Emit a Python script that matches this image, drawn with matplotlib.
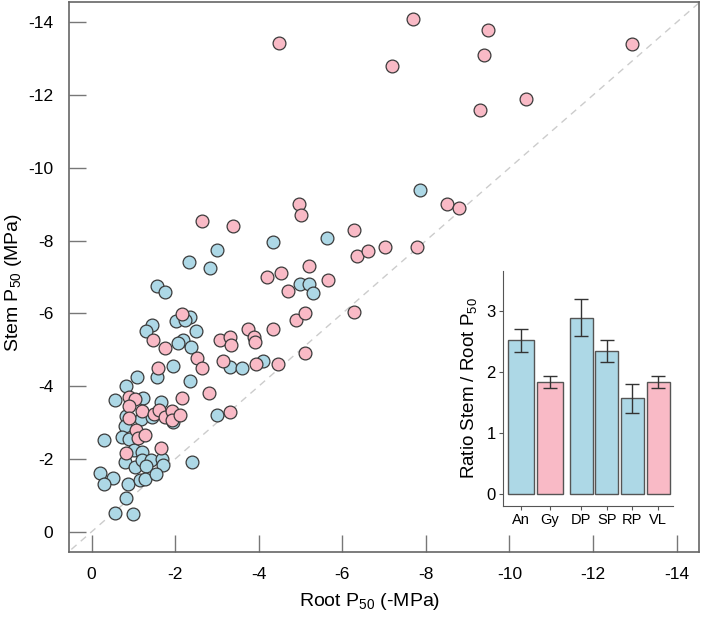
import matplotlib
matplotlib.use("Agg")
import matplotlib.pyplot as plt

plt.rcParams['font.family'] = ['Liberation Sans', 'DejaVu Sans']
plt.rcParams['mathtext.fontset'] = 'custom'
plt.rcParams['mathtext.rm'] = 'Liberation Sans'
plt.rcParams['mathtext.it'] = 'Liberation Sans:italic'
plt.rcParams['axes.unicode_minus'] = False

# angiosperms (blue)
an_root = [-2.32, -3.01, -2.84, -1.56, -1.76, -4.99, -5.21, -5.30, -2.35, -2.03,
           -2.23, -1.44, -1.29, -2.49, -2.19, -2.07, -2.37, -3.32, -3.59, -4.11,
           -1.95, -1.57, -1.09, -2.36, -0.81, -0.57, -1.23, -1.65, -0.83, -1.17,
           -1.45, -1.95, -3.00, -0.80, -0.72, -0.89, -0.30, -1.01, -1.21, -0.80,
           -1.03, -1.21, -1.43, -1.31, -1.69, -1.71, -2.41, -0.20, -0.50, -0.30,
           -0.86, -1.15, -1.27, -1.54, -0.81, -0.57, -1.00, -7.87, -5.64, -4.34]
an_stem = [-7.42, -7.73, -7.26, -6.75, -6.60, -6.82, -6.82, -6.55, -5.91, -5.79,
           -5.82, -5.69, -5.52, -5.51, -5.27, -5.18, -5.09, -4.53, -4.51, -4.69,
           -4.55, -4.26, -4.26, -4.13, -4.01, -3.61, -3.67, -3.57, -3.19, -3.10,
           -3.16, -3.01, -3.21, -2.91, -2.60, -2.55, -2.51, -2.25, -2.20, -1.92,
           -1.79, -1.97, -1.97, -1.81, -1.99, -1.82, -1.92, -1.61, -1.47, -1.31,
           -1.32, -1.42, -1.44, -1.59, -0.93, -0.51, -0.48, -9.40, -8.08, -7.96]

# gymnosperms (pink)
gy_root = [-4.19, -4.53, -5.20, -4.70, -2.17, -1.46, -1.75, -3.07, -3.31, -3.33,
           -3.74, -3.88, -3.91, -4.33, -4.90, -5.10, -5.10, -2.53, -2.65, -3.14,
           -3.93, -4.45, -1.58, -0.89, -1.04, -0.89, -2.16, -2.80, -0.89, -1.21,
           -1.49, -1.61, -1.75, -1.93, -1.93, -2.11, -3.30, -1.07, -1.11, -1.28,
           -0.81, -1.65, -8.50, -8.80, -4.96, -5.00, -2.65, -3.39, -6.29, -6.35,
           -6.61, -7.03, -7.79, -7.69, -9.49, -7.19, -9.40, -12.94, -10.39, -9.29,
           -4.48, -5.65, -6.28]
gy_stem = [-7.01, -7.12, -7.31, -6.61, -5.98, -5.27, -5.05, -5.27, -5.34, -5.14,
           -5.56, -5.35, -5.21, -5.58, -5.81, -6.00, -4.92, -4.78, -4.50, -4.70,
           -4.60, -4.60, -4.51, -3.71, -3.65, -3.45, -3.68, -3.80, -3.13, -3.31,
           -3.23, -3.34, -3.14, -3.31, -3.07, -3.22, -3.30, -2.79, -2.57, -2.67,
           -2.15, -2.31, -9.01, -8.90, -9.00, -8.70, -8.55, -8.40, -8.30, -7.58,
           -7.71, -7.82, -7.82, -14.09, -13.80, -12.80, -13.10, -13.41, -11.90, -11.60,
           -13.43, -6.93, -6.05]

# inset: ratio stem / root P50
groups = ['An', 'Gy', 'DP', 'SP', 'RP', 'VL']
ratio = [2.52, 1.84, 2.89, 2.35, 1.57, 1.84]
ratio_se = [0.185, 0.095, 0.30, 0.18, 0.235, 0.095]

blue = '#ADD8E6'
pink = '#F9BAC6'
bar_colors = [blue, pink, blue, blue, blue, pink]
bar_pos = [0, 1, 2.07, 2.94, 3.82, 4.71]
bar_w = [0.9, 0.9, 0.79, 0.79, 0.79, 0.79]

fig = plt.figure(figsize=(7.03, 6.17), dpi=100)
ax = fig.add_axes([0.0977, 0.1058, 0.8962, 0.891])

ax.axline((0, 0), slope=1, color='#cccccc', lw=1, ls=(0, (5, 4)), zorder=1)
ax.scatter(an_root, an_stem, s=85, c=blue, edgecolors='#3a3a3a', linewidths=0.9, zorder=3)
ax.scatter(gy_root, gy_stem, s=85, c=pink, edgecolors='#3a3a3a', linewidths=0.9, zorder=3)

ax.set_xlim(0.55, -14.53)
ax.set_ylim(0.55, -14.56)
ticks = [0, -2, -4, -6, -8, -10, -12, -14]
ax.set_xticks(ticks)
ax.set_yticks(ticks)
ax.tick_params(direction='in', length=12, width=1, color='#777777',
               labelsize=12.5, pad=11)
for s in ax.spines.values():
    s.set_color('#666666')
    s.set_linewidth(1.2)

ax.set_xlabel('Root P$_{50}$ (-MPa)', fontsize=14)
ax.xaxis.set_label_coords(0.477, -0.072)
ax.set_ylabel('Stem P$_{50}$ (MPa)', fontsize=14)
ax.yaxis.set_label_coords(-0.071, 0.49)

# inset
ins = fig.add_axes([0.715, 0.1804, 0.2422, 0.381])
ins.bar(bar_pos, ratio, width=bar_w, color=bar_colors, edgecolor='#555555', linewidth=1, zorder=2)
ins.errorbar(bar_pos, ratio, yerr=ratio_se, fmt='none', ecolor='#333333',
             elinewidth=1, capsize=5, capthick=1, zorder=3)
ins.set_xlim(-0.62, 5.21)
ins.set_ylim(-0.19, 3.66)
ins.set_yticks([0, 1, 2, 3])
ins.set_xticks(bar_pos)
ins.set_xticklabels(groups, fontsize=10.5)
ins.tick_params(axis='y', labelsize=12, length=3, pad=2, color='#555555')
ins.tick_params(axis='x', length=3, pad=2, color='#555555')
ins.spines['top'].set_visible(False)
ins.spines['right'].set_visible(False)
for s in ['left', 'bottom']:
    ins.spines[s].set_color('#555555')
ins.patch.set_alpha(0)
ins.set_ylabel('Ratio Stem / Root P$_{50}$', fontsize=13.5, labelpad=5)

fig.savefig('out.png', dpi=100)
